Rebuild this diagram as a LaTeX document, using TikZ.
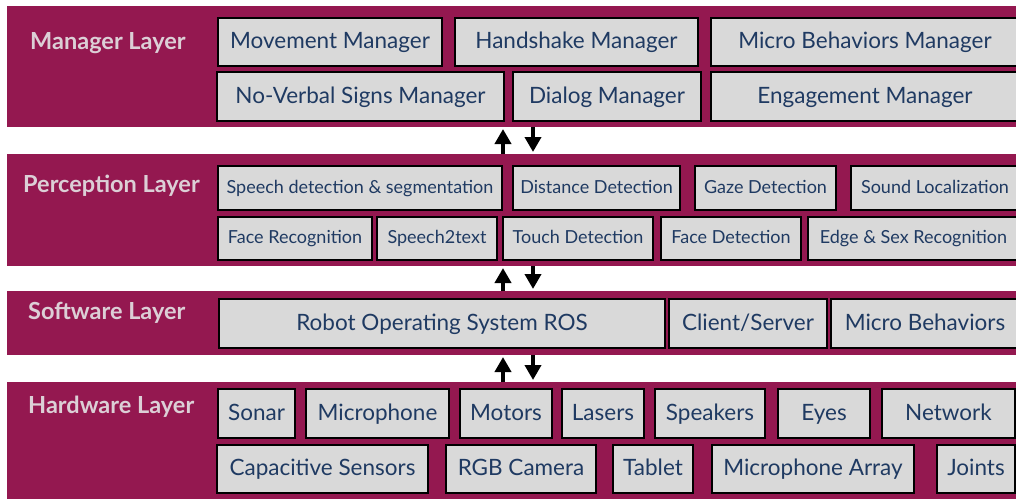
\documentclass[tikz,border=0pt]{standalone}
\usepackage{fontspec}
\setmainfont{Lato}
\usetikzlibrary{arrows.meta,calc}
\definecolor{band}{HTML}{941850}
\definecolor{boxfill}{HTML}{D9D9D9}
\definecolor{boxtext}{HTML}{1F3A62}
\definecolor{labeltext}{HTML}{DCCFD6}
\tikzset{
  layerband/.style={fill=band, draw=none, inner sep=0pt, outer sep=0pt},
  box/.style={draw=black, line width=1.6pt, fill=boxfill, text=boxtext,
    inner sep=0pt, outer sep=0pt},
  bigtext/.style={font=\fontsize{22.5}{26}\selectfont, text height=16pt, text depth=3pt},
  smalltext/.style={font=\fontsize{18}{21}\selectfont, text height=13pt, text depth=2.5pt},
  layerlabel/.style={text=labeltext, font=\bfseries\fontsize{23.5}{27}\selectfont,
    anchor=west, inner sep=0pt, text height=17pt, text depth=3pt},
  flow/.style={line width=4pt, -{Triangle[length=15pt,width=16pt]}, shorten >=2pt},
}
% box from corner (x1,y1) to corner (x2,y2), given in pixel units
\newcommand\bx[7]{%
  \pgfmathsetmacro\bxw{#4-#2}\pgfmathsetmacro\bxh{#5-#3}%
  \node[box,#7, minimum width=\bxw pt, minimum height=\bxh pt] (#1)
    at ({(#2+#4)/2},{(#3+#5)/2}) {#6};}
\newcommand\band[4]{%
  \pgfmathsetmacro\bdh{#3-#2}%
  \node[layerband, minimum width=1016pt, minimum height=\bdh pt, anchor=north west] (#1)
    at (#4,#2) {};}
\begin{document}
\begin{tikzpicture}[x=1pt,y=-1pt]
\useasboundingbox (0,0) rectangle (1016,498);
\clip (0,0) rectangle (1016,498);
\fill[white] (0,0) rectangle (1016,498);

% layer bands
\band{mgr}{6}{127}{7}
\band{perc}{154}{266}{7}
\band{soft}{291}{355}{7}
\band{hard}{382}{505}{7}

% layer names
\node[layerlabel] (lmgr) at (30,42) {Manager Layer};
\node[layerlabel] (lperc) at (23,185) {Perception Layer};
\node[layerlabel] (lsoft) at (28,312) {Software Layer};
\node[layerlabel] (lhard) at (28,406) {Hardware Layer};

% manager layer
\bx{move}{218}{18}{442}{66}{Movement Manager}{bigtext}
\bx{hand}{455}{18}{698}{66}{Handshake Manager}{bigtext}
\bx{micro}{711}{18}{1019}{66}{Micro Behaviors Manager}{bigtext}
\bx{nonverb}{217}{72}{504}{121}{No-Verbal Signs Manager}{bigtext}
\bx{dialog}{513}{72}{701}{121}{Dialog Manager}{bigtext}
\bx{engage}{711}{72}{1019}{121}{Engagement Manager}{bigtext}

% perception layer
\bx{speech}{218}{166}{502}{210}{Speech detection \& segmentation}{smalltext}
\bx{dist}{513}{166}{680}{210}{Distance Detection}{smalltext}
\bx{gaze}{695}{166}{836}{210}{Gaze Detection}{smalltext}
\bx{sound}{851}{166}{1019}{210}{Sound Localization}{smalltext}
\bx{facerec}{218}{217}{372}{260}{Face Recognition}{smalltext}
\bx{s2t}{377}{217}{497}{260}{Speech2text}{smalltext}
\bx{touch}{503}{217}{653}{260}{Touch Detection}{smalltext}
\bx{facedet}{661}{217}{801}{260}{Face Detection}{smalltext}
\bx{edge}{808}{217}{1019}{260}{Edge \& Sex Recognition}{smalltext}

% software layer
\bx{ros}{219}{299}{665}{348}{Robot Operating System ROS}{bigtext}
\bx{client}{669}{299}{827}{348}{Client/Server}{bigtext}
\bx{microb}{831}{299}{1019}{348}{Micro Behaviors}{bigtext}

% hardware layer
\bx{sonar}{218}{389}{295}{438}{Sonar}{bigtext}
\bx{mic}{306}{389}{449}{438}{Microphone}{bigtext}
\bx{motors}{460}{389}{552}{438}{Motors}{bigtext}
\bx{lasers}{562}{389}{644}{438}{Lasers}{bigtext}
\bx{speak}{655}{389}{765}{438}{Speakers}{bigtext}
\bx{eyes}{778}{389}{870}{438}{Eyes}{bigtext}
\bx{net}{882}{389}{1015}{438}{Network}{bigtext}
\bx{caps}{217}{445}{428}{493}{Capacitive Sensors}{bigtext}
\bx{rgb}{446}{445}{596}{493}{RGB Camera}{bigtext}
\bx{tablet}{613}{445}{693}{493}{Tablet}{bigtext}
\bx{micarr}{712}{445}{914}{493}{Microphone Array}{bigtext}
\bx{joints}{937}{445}{1015}{493}{Joints}{bigtext}

% data flow between layers
\coordinate (upx) at (503,0);
\coordinate (downx) at (533,0);
\draw[flow] (perc.north -| upx) -- (mgr.south -| upx);
\draw[flow] (mgr.south -| downx) -- (perc.north -| downx);
\draw[flow] (soft.north -| upx) -- (perc.south -| upx);
\draw[flow] (perc.south -| downx) -- (soft.north -| downx);
\draw[flow] (hard.north -| upx) -- (soft.south -| upx);
\draw[flow] (soft.south -| downx) -- (hard.north -| downx);
\end{tikzpicture}
\end{document}
